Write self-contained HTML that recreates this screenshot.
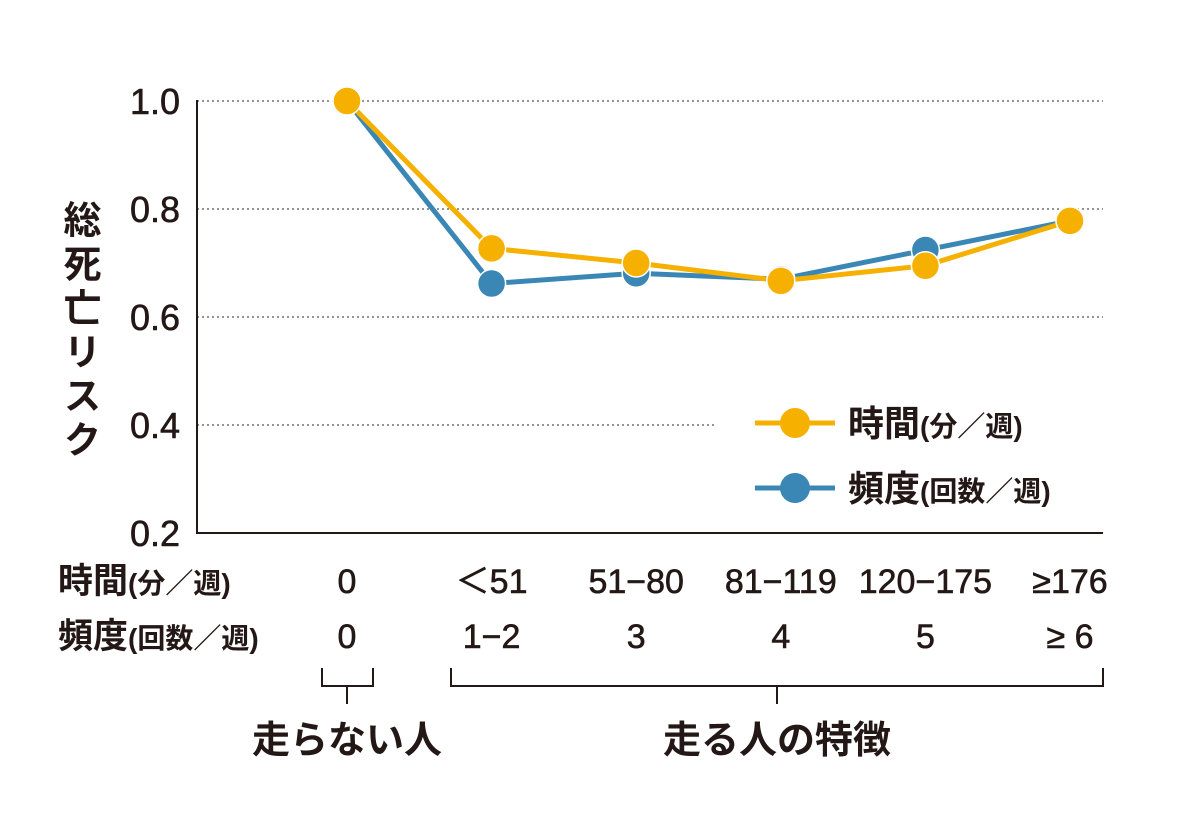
<!DOCTYPE html>
<html><head><meta charset="utf-8"><style>
body{margin:0;background:#fff;}
svg text{font-family:"Liberation Sans","Noto Sans CJK JP",sans-serif;fill:#231815;}
</style></head><body>
<svg id="chart" width="1200" height="832" viewBox="0 0 1200 832" xmlns="http://www.w3.org/2000/svg">
<g id="grid"></g>
<g id="axes"></g>
<g id="series"></g>
<g id="labels"></g>
</svg>
<script>
const categoriesTime = ["0", "＜51", "51−80", "81−119", "120−175", "≥176"];
const categoriesFreq = ["0", "1−2", "3", "4", "5", "≥ 6"];
const timeValues = [1.0, 0.727, 0.700, 0.667, 0.695, 0.778];
const freqValues = [1.0, 0.662, 0.681, 0.670, 0.724, 0.778];
const yTicks = [1.0, 0.8, 0.6, 0.4, 0.2];
const yTickLabels = ["1.0", "0.8", "0.6", "0.4", "0.2"];

const NS = "http://www.w3.org/2000/svg";
function y(v){ return 533 - (v - 0.2) / 0.8 * 432; }
function x(i){ return 347 + i * 144.6; }
function mk(tag, attrs, parent, text){
  const e = document.createElementNS(NS, tag);
  for (const k in attrs) e.setAttribute(k, attrs[k]);
  if (text !== undefined) e.textContent = text;
  parent.appendChild(e); return e;
}
const grid = document.getElementById('grid'), axes = document.getElementById('axes'),
      series = document.getElementById('series'), labels = document.getElementById('labels');

yTicks.forEach((t, i) => {
  if (t > 0.2) {
    const g = mk('line', {x1:197, x2: t === 0.4 ? 715 : 1103, y1:y(t), y2:y(t), stroke:'#555', 'stroke-width':1.3, 'stroke-dasharray':'2 3'}, grid);
    
    
  }
  const tl = mk('text', {x:180, y:y(t)+13, 'text-anchor':'end', 'font-size':36, stroke:'#231815', 'stroke-width':0.6}, axes, yTickLabels[i]);
  
  
});
let a = mk('path', {d:'M197 100 V533 H1103', fill:'none', stroke:'#231815', 'stroke-width':2}, axes);



const yt = mk('text', {x:78, y:200, 'font-size':38, 'font-weight':'bold', 'writing-mode':'tb', 'glyph-orientation-vertical':0, 'letter-spacing':6}, axes, '総死亡リスク');



function drawSeries(vals, color, name){
  const pts = vals.map((v,i)=>x(i)+','+y(v)).join(' ');
  const l = mk('polyline', {points:pts, fill:'none', stroke:color, 'stroke-width':5, 'stroke-linejoin':'round'}, series);
  
  
  vals.forEach((v,i)=>{
    const c = mk('circle', {cx:x(i), cy:y(v), r:14, fill:color, stroke:'#fff', 'stroke-width':1.5}, series);
    
    
  });
}
drawSeries(freqValues, '#3a87b5', 'frequency');
drawSeries(timeValues, '#f5b000', 'time');

function legend(yy, color, main, sub, name){
  const g = mk('g', {}, labels);
  
  
  mk('line', {x1:755, x2:835, y1:yy, y2:yy, stroke:color, 'stroke-width':5}, g);
  mk('circle', {cx:795, cy:yy, r:15, fill:color}, g);
  const t = mk('text', {x:848, y:yy+13, 'font-size':36, 'font-weight':'bold'}, g, main);
  mk('tspan', {'font-size':28}, t, sub);
}
legend(423, '#f5b000', '時間', '(分／週)', 'legend-time');
legend(488, '#3a87b5', '頻度', '(回数／週)', 'legend-frequency');

let r1 = mk('text', {x:58, y:593, 'font-size':35, 'font-weight':'bold'}, labels, '時間');
mk('tspan', {'font-size':28}, r1, '(分／週)');


let r2 = mk('text', {x:58, y:648, 'font-size':35, 'font-weight':'bold'}, labels, '頻度');
mk('tspan', {'font-size':28}, r2, '(回数／週)');


categoriesTime.forEach((c,i)=>{
  const t = mk('text', {x:x(i), y:593, 'text-anchor':'middle', 'font-size':34, stroke:'#231815', 'stroke-width':0.6}, labels, c);
  
  
});
categoriesFreq.forEach((c,i)=>{
  const t = mk('text', {x:x(i), y:648, 'text-anchor':'middle', 'font-size':34, stroke:'#231815', 'stroke-width':0.6}, labels, c);
  
  
});
let b1 = mk('path', {d:'M322 668 V686 H373 V668 M347 686 V704', fill:'none', stroke:'#231815', 'stroke-width':2}, labels);


let b2 = mk('path', {d:'M451 668 V686 H1103 V668 M777 686 V704', fill:'none', stroke:'#231815', 'stroke-width':2}, labels);


let g1 = mk('text', {x:347, y:753, 'text-anchor':'middle', 'font-size':38, 'font-weight':'bold'}, labels, '走らない人');


let g2 = mk('text', {x:777, y:753, 'text-anchor':'middle', 'font-size':38, 'font-weight':'bold'}, labels, '走る人の特徴');


</script>
</body></html>
